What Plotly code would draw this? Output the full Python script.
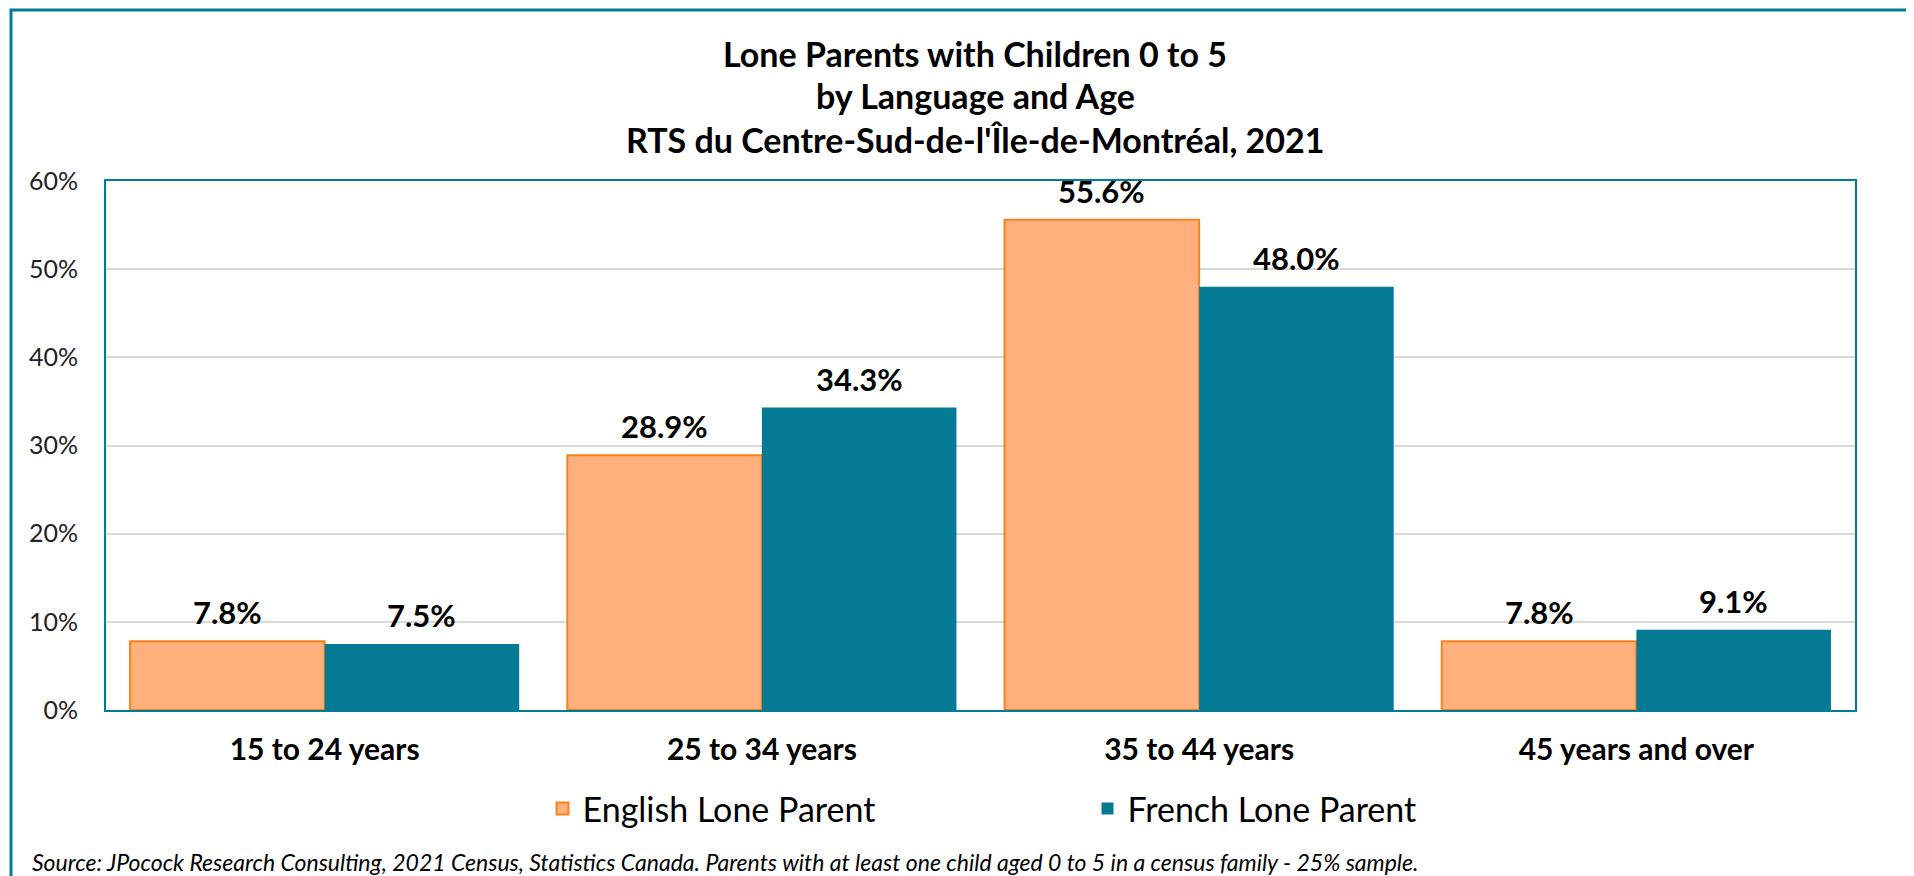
import plotly.graph_objects as go

categories = ["15 to 24 years", "25 to 34 years", "35 to 44 years", "45 years and over"]
english = [7.8, 28.9, 55.6, 7.8]
french = [7.5, 34.3, 48.0, 9.1]
series_names = ["English Lone Parent", "French Lone Parent"]
title_lines = ["Lone Parents with Children 0 to 5", "by Language and Age",
               "RTS du Centre-Sud-de-l'Île-de-Montréal, 2021"]
source_text = ("Source: JPocock Research Consulting, 2021 Census, Statistics Canada. "
               "Parents with at least one child aged 0 to 5 in a census family - 25% sample.")

OFF = 8  # default page body margin
W, H = 1914 - OFF, 876 - OFF
# plot area in screen pixels
L, R, T, B = 106, 1855, 181, 710
pw, ph = R - L, B - T

def px_x(px):
    return (px - L) / pw

def px_y(py):
    return (B - py) / ph

TEAL = "#047A94"
ORANGE_FILL = "#FFB07C"
ORANGE_LINE = "#F7821E"
FONT = "Lato"

fig = go.Figure()
fig.add_trace(go.Bar(x=categories, y=english, name=series_names[0],
                     marker=dict(color=ORANGE_FILL, line=dict(color=ORANGE_LINE, width=2))))
fig.add_trace(go.Bar(x=categories, y=french, name=series_names[1],
                     marker=dict(color=TEAL, line=dict(color=TEAL, width=0))))

bargap = 0.11
bar_px = pw / len(categories) * (1 - bargap) / 2
annotations = []
for vals, sign in ((english, -1), (french, 1)):
    for c, v in zip(categories, vals):
        annotations.append(dict(x=c, y=v, xref="x", yref="y", text=f"<b>{v:.1f}%</b>",
                                showarrow=False, xshift=sign * bar_px / 2, yshift=8,
                                yanchor="bottom", xanchor="center",
                                font=dict(family=FONT, size=31, color="#000000")))

for line, py in zip(title_lines, [54, 95, 140]):
    annotations.append(dict(x=px_x(975), y=px_y(py), xref="paper", yref="paper",
                            text=f"<b>{line}</b>", showarrow=False,
                            xanchor="center", yanchor="middle",
                            font=dict(family=FONT, size=34, color="#000000")))

annotations.append(dict(x=px_x(30), y=px_y(862), xref="paper", yref="paper",
                        text=f"<i>{source_text}</i>", showarrow=False,
                        xanchor="left", yanchor="middle",
                        font=dict(family=FONT, size=23, color="#000000")))

fig.update_layout(
    width=W, height=H,
    margin=dict(l=L - OFF, r=W + OFF - R, t=T - OFF, b=H + OFF - B, pad=0),
    paper_bgcolor="white", plot_bgcolor="white",
    barmode="group", bargap=bargap, bargroupgap=0,
    annotations=annotations,
    showlegend=True,
    legend=dict(orientation="h", x=0.5 + 107 / pw, xanchor="center", y=px_y(809), yanchor="middle",
                font=dict(family=FONT, size=34, color="#000000"),
                entrywidth=500, entrywidthmode="pixels", itemsizing="constant"),
    shapes=[dict(type="rect", xref="paper", yref="paper",
                 x0=px_x(11), y0=px_y(900), x1=px_x(1960), y1=px_y(10),
                 line=dict(color=TEAL, width=3), fillcolor="rgba(0,0,0,0)", layer="below")],
)

fig.update_yaxes(range=[0, 60], dtick=10, ticksuffix="%", showgrid=True,
                 gridcolor="#D9D9D9", gridwidth=2, zeroline=False,
                 showline=True, linecolor=TEAL, linewidth=2, mirror=True,
                 ticks="outside", ticklen=21, tickcolor="rgba(0,0,0,0)",
                 tickfont=dict(family=FONT, size=25, color="#222222"))
fig.update_xaxes(showline=True, linecolor=TEAL, linewidth=2, mirror=True,
                 ticks="outside", ticklen=12, tickcolor="rgba(0,0,0,0)",
                 tickfont=dict(family=FONT, size=30, color="#000000"),
                 tickprefix="<b>", ticksuffix="</b>")

fig.write_html("out.html")
